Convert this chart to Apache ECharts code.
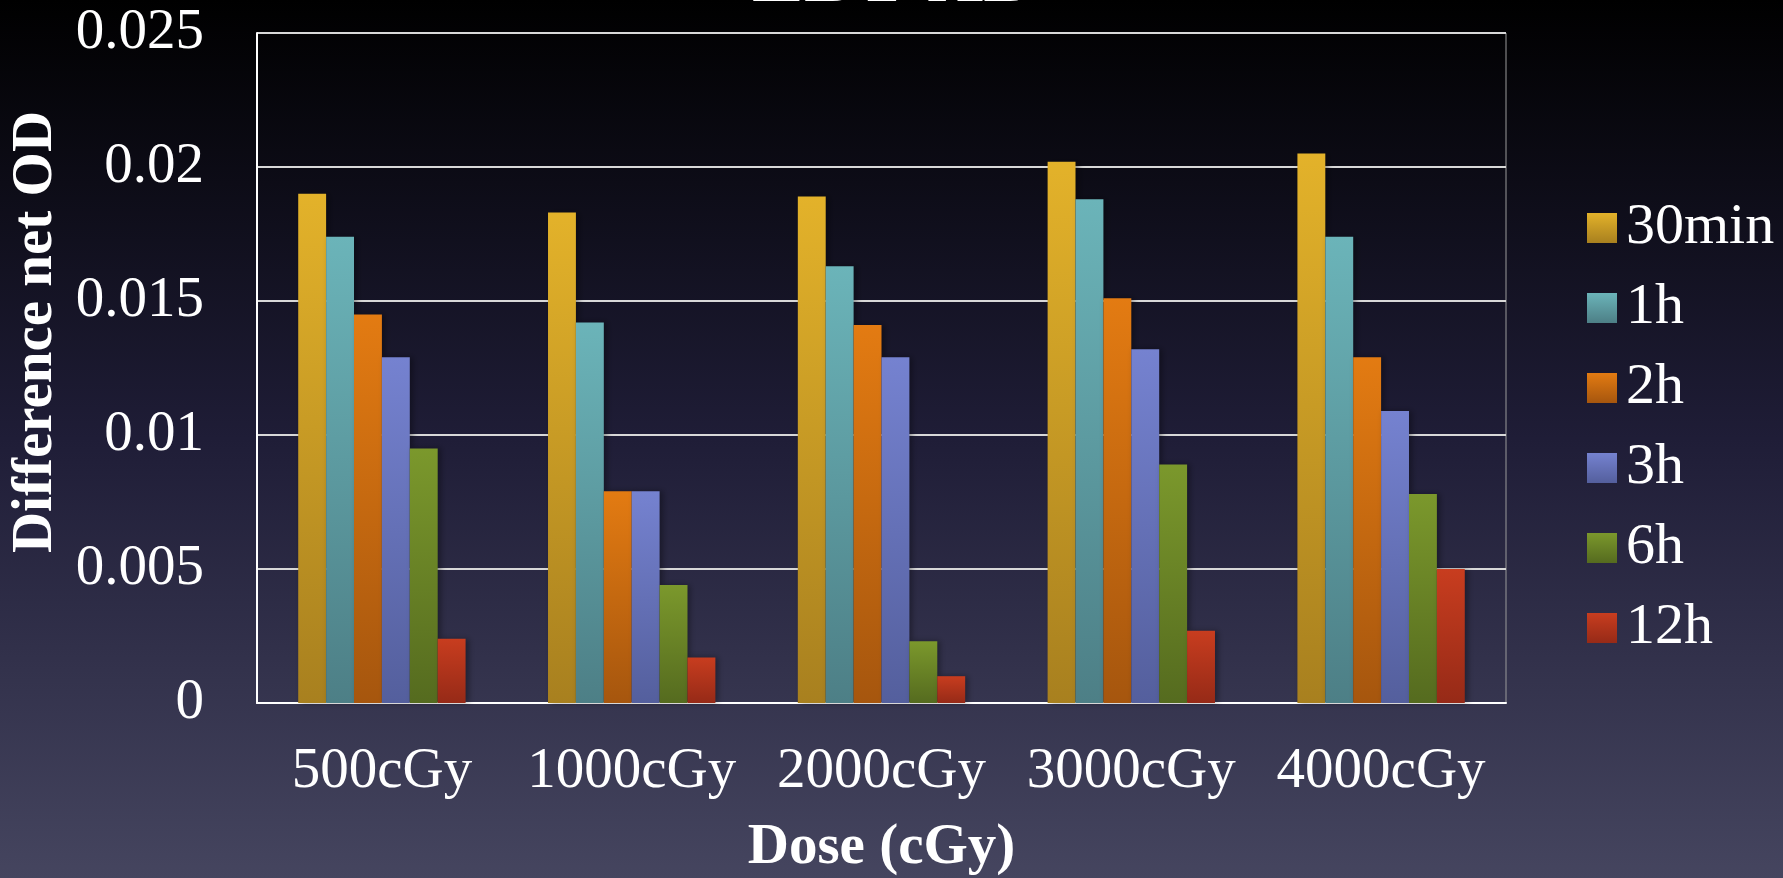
<!DOCTYPE html>
<html>
<head>
<meta charset="utf-8">
<script src="https://cdn.jsdelivr.net/npm/echarts@6/dist/echarts.min.js"></script>
<style>
  html, body { margin: 0; padding: 0; background: #000; }
  #chart { width: 1783px; height: 878px; }
</style>
</head>
<body>
<div id="chart"></div>
<script>
// Dose levels on the x axis
const doses = ['500cGy', '1000cGy', '2000cGy', '3000cGy', '4000cGy'];

// Difference in net optical density, one array per read-out delay
const delay30min = [0.0190, 0.0183, 0.0189, 0.0202, 0.0205];
const delay1h    = [0.0174, 0.0142, 0.0163, 0.0188, 0.0174];
const delay2h    = [0.0145, 0.0079, 0.0141, 0.0151, 0.0129];
const delay3h    = [0.0129, 0.0079, 0.0129, 0.0132, 0.0109];
const delay6h    = [0.0095, 0.0044, 0.0023, 0.0089, 0.0078];
const delay12h   = [0.0024, 0.0017, 0.0010, 0.0027, 0.0050];

const seriesNames = ['30min', '1h', '2h', '3h', '6h', '12h'];
const yTickLabels = ['0', '0.005', '0.01', '0.015', '0.02', '0.025'];

const seriesData = [delay30min, delay1h, delay2h, delay3h, delay6h, delay12h];

// top / bottom shade of each bar gradient
const shades = [
  ['#e3b22a', '#a8801f'],
  ['#6bb4b9', '#4d7f86'],
  ['#e37b12', '#a6560e'],
  ['#7582d0', '#545f9d'],
  ['#7b982c', '#556b1f'],
  ['#c83d1f', '#962a17']
];

const serif = '"Liberation Serif", "Times New Roman", Times, serif';

const chart = echarts.init(document.getElementById('chart'), null, { renderer: 'canvas' });

const series = seriesNames.map((name, i) => ({
  name: name,
  type: 'bar',
  data: seriesData[i],
  barGap: '0%',
  barCategoryGap: '33%',
  itemStyle: {
    color: new echarts.graphic.LinearGradient(0, 0, 0, 1, [
      { offset: 0, color: shades[i][0] },
      { offset: 1, color: shades[i][1] }
    ]),
    shadowColor: 'rgba(0,0,0,0.35)',
    shadowBlur: 6,
    shadowOffsetX: 3,
    shadowOffsetY: 0
  },
  emphasis: { disabled: true }
}));

chart.setOption({
  animation: false,
  backgroundColor: new echarts.graphic.LinearGradient(0, 0, 0, 1, [
    { offset: 0, color: '#000000' },
    { offset: 0.5, color: '#1f1d37' },
    { offset: 1, color: '#45455f' }
  ]),
  title: {
    text: 'EBT-XD',
    left: 752,
    top: -58,
    padding: 0,
    textStyle: { color: '#ffffff', fontFamily: serif, fontWeight: 'bold', fontSize: 78 }
  },
  grid: {
    left: 257,
    right: 277,
    top: 33,
    bottom: 175,
    outerBoundsMode: 'none',
    containLabel: false,
    show: true,
    borderColor: '#9a9a9a',
    borderWidth: 1,
    backgroundColor: 'transparent'
  },
  legend: {
    orient: 'vertical',
    left: 1587,
    top: 199,
    padding: 0,
    itemWidth: 30,
    itemHeight: 30,
    itemGap: 22,
    itemStyle: { shadowBlur: 0, shadowOffsetX: 0 },
    icon: 'rect',
    textStyle: { color: '#ffffff', fontFamily: serif, fontSize: 58, lineHeight: 58, padding: [0, 0, 0, 4] },
    data: seriesNames
  },
  xAxis: {
    type: 'category',
    data: doses,
    name: 'Dose (cGy)',
    nameLocation: 'middle',
    nameGap: 117,
    nameTextStyle: { color: '#ffffff', fontFamily: serif, fontWeight: 'bold', fontSize: 57 },
    axisLine: { show: true, lineStyle: { color: '#ffffff', width: 2 } },
    axisTick: { show: false },
    axisLabel: { color: '#ffffff', fontFamily: serif, fontSize: 57, margin: 41, interval: 0, hideOverlap: false },
    splitLine: { show: false }
  },
  yAxis: {
    type: 'value',
    min: 0,
    max: 0.025,
    interval: 0.005,
    name: 'Difference net OD',
    nameLocation: 'middle',
    nameGap: 187,
    nameTextStyle: {
      color: '#ffffff', fontFamily: serif, fontWeight: 'bold', fontSize: 57,
      padding: [0, 0, 0, 72]
    },
    axisLine: { show: true, lineStyle: { color: '#ffffff', width: 2 } },
    axisTick: { show: false },
    axisLabel: {
      color: '#ffffff', fontFamily: serif, fontSize: 57, margin: 53,
      formatter: v => yTickLabels[Math.round(v / 0.005)]
    },
    splitLine: { show: true, lineStyle: { color: '#d8d8d8', width: 2 } }
  },
  series: series
});
</script>
</body>
</html>
